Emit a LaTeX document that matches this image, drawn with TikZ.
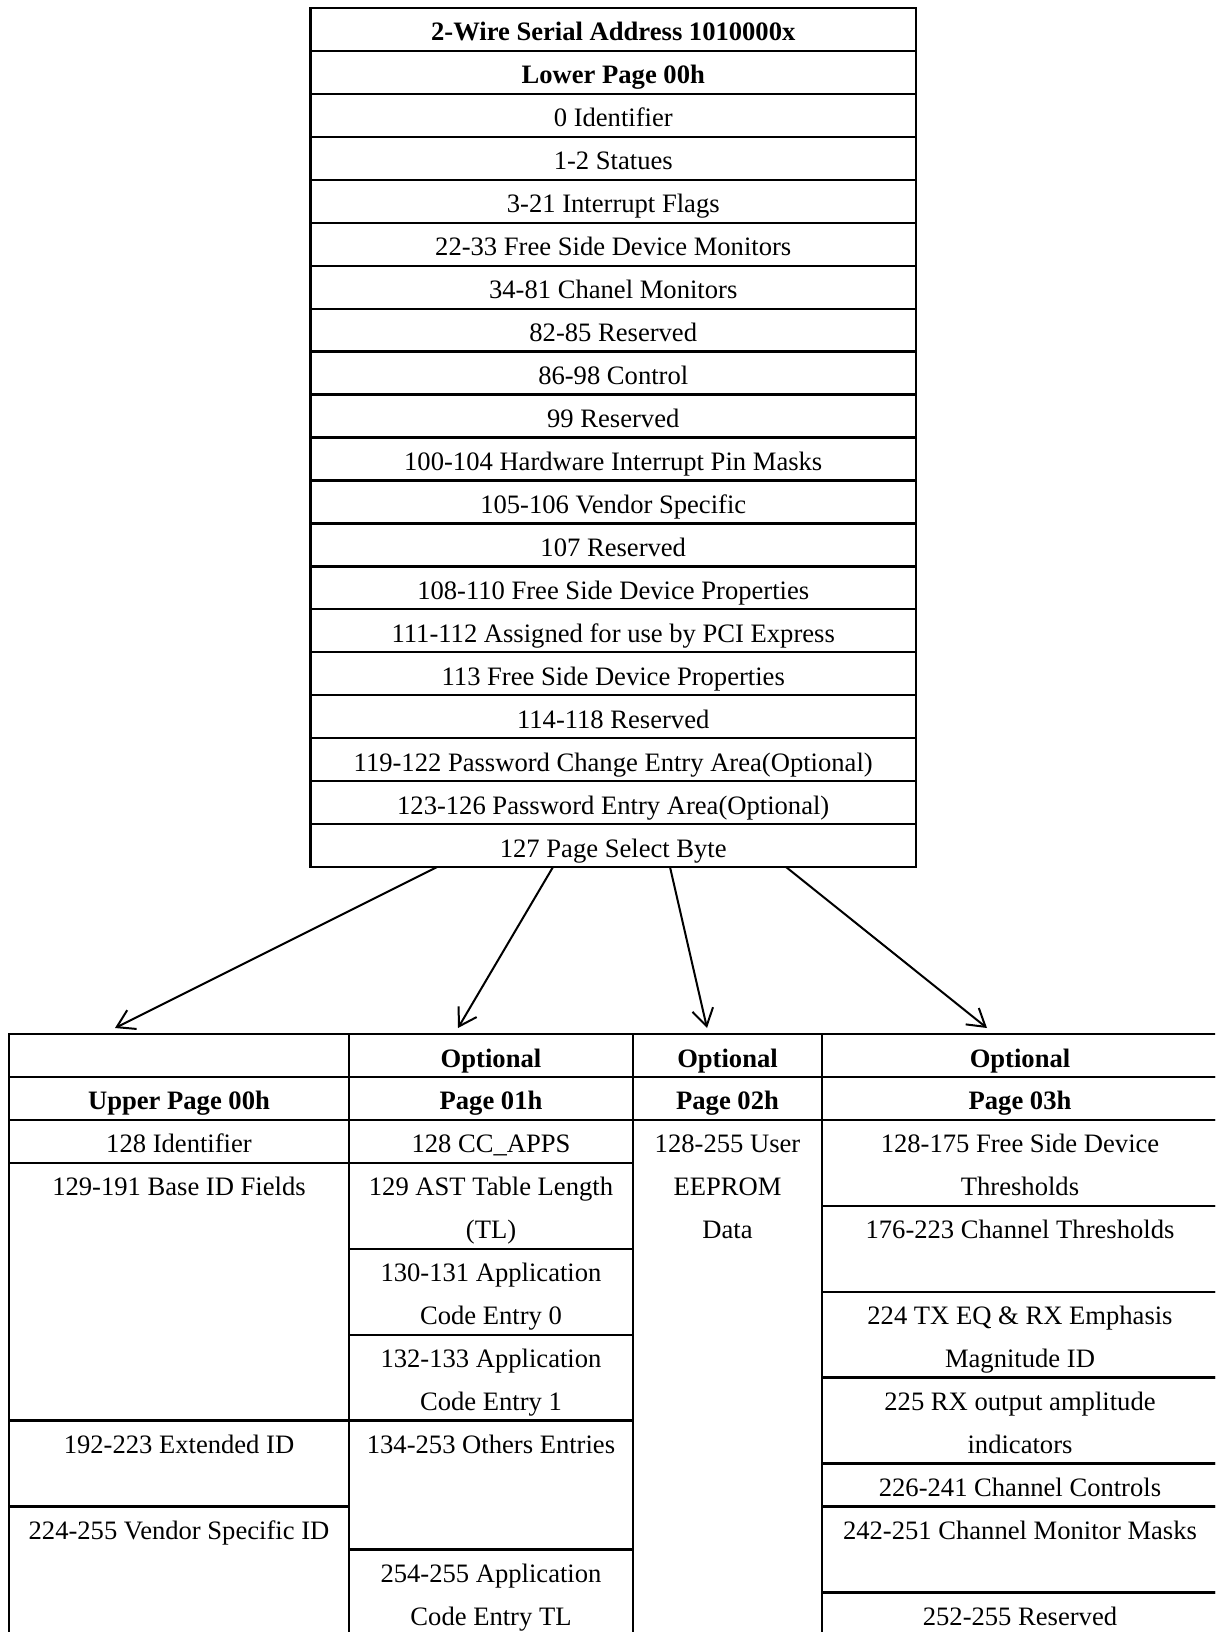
\documentclass[tikz,border=0pt]{standalone}
\usepackage{fontspec}
\setmainfont{Liberation Serif}
\usetikzlibrary{arrows.meta,positioning,calc}
\newcommand{\cellstrut}{\rule[-4.975pt]{0pt}{21.475pt}}

\begin{document}
\begin{tikzpicture}[
    x=1pt, y=-1pt,
    every node/.style={font=\fontsize{13.3}{21.475}\selectfont, inner sep=0pt, outer sep=0pt, execute at begin node=\cellstrut},
    grid/.style={draw, line width=1.15pt},
    row/.style={grid, minimum width=302.75pt, minimum height=21.475pt},
    head/.style={font=\fontsize{13.3}{21.475}\selectfont\bfseries},
    cell/.style={grid, minimum height=#1},
    colA/.style={minimum width=170pt},
    colB/.style={minimum width=142pt},
    colC/.style={minimum width=94.5pt},
    colD/.style={minimum width=198pt},
    txt/.style={anchor=north, align=center},
    arrow/.style={-{Straight Barb[length=8.5pt,width=10.5pt]}, line width=1pt}
  ]
  \clip (0,0) rectangle (607.5,816);

  % Lower page
  \node[row, head] (addr) at (306.625,14.7375) {2-Wire Serial Address 1010000x};
  \node[row, head, below=0pt of addr] (lower) {Lower Page 00h};
  \node[row, below=0pt of lower]    (ident)     {0 Identifier};
  \node[row, below=0pt of ident]    (stat)      {1-2 Statues};
  \node[row, below=0pt of stat]     (intf)      {3-21 Interrupt Flags};
  \node[row, below=0pt of intf]     (fsmon)     {22-33 Free Side Device Monitors};
  \node[row, below=0pt of fsmon]    (chmon)     {34-81 Chanel Monitors};
  \node[row, below=0pt of chmon]    (res82)     {82-85 Reserved};
  \node[row, below=0pt of res82]    (ctrl)      {86-98 Control};
  \node[row, below=0pt of ctrl]     (res99)     {99 Reserved};
  \node[row, below=0pt of res99]    (hwmask)    {100-104 Hardware Interrupt Pin Masks};
  \node[row, below=0pt of hwmask]   (vend)      {105-106 Vendor Specific};
  \node[row, below=0pt of vend]     (res107)    {107 Reserved};
  \node[row, below=0pt of res107]   (fsprop)    {108-110 Free Side Device Properties};
  \node[row, below=0pt of fsprop]   (pcie)      {111-112 Assigned for use by PCI Express};
  \node[row, below=0pt of pcie]     (fsprop113) {113 Free Side Device Properties};
  \node[row, below=0pt of fsprop113](res114)    {114-118 Reserved};
  \node[row, below=0pt of res114]   (pwchg)     {119-122 Password Change Entry Area(Optional)};
  \node[row, below=0pt of pwchg]    (pwent)     {123-126 Password Entry Area(Optional)};
  \node[row, below=0pt of pwent]    (psel)      {127 Page Select Byte};

  % Upper pages, header
  \node[cell=21.475pt, colA]       (optU) at (89.5,527.7375)   {};
  \node[cell=21.475pt, colB, head] (optA) at (245.5,527.7375)  {Optional};
  \node[cell=21.475pt, colC, head] (optB) at (363.75,527.7375) {Optional};
  \node[cell=21.475pt, colD, head] (optC) at (510,527.7375)    {Optional};
  \node[cell=21.475pt, colA, head] (pgU) at (89.5,549.2125)   {Upper Page 00h};
  \node[cell=21.475pt, colB, head] (pgA) at (245.5,549.2125)  {Page 01h};
  \node[cell=21.475pt, colC, head] (pgB) at (363.75,549.2125) {Page 02h};
  \node[cell=21.475pt, colD, head] (pgC) at (510,549.2125)    {Page 03h};

  % Upper page 00h
  \node[cell=21.475pt, colA, label={[txt]north:{128 Identifier}}] (uid) at (89.5,570.6875) {};
  \node[cell=128.85pt, colA, label={[txt]north:{129-191 Base ID Fields}}] (ubase) at (89.5,645.85) {};
  \node[cell=42.95pt, colA, label={[txt]north:{192-223 Extended ID}}] (uext) at (89.5,731.75) {};
  \node[cell=64.425pt, colA, label={[txt]north:{224-255 Vendor Specific ID}}] (uvend) at (89.5,785.4375) {};

  % Page 01h
  \node[cell=21.475pt, colB, label={[txt]north:{128 CC\_APPS}}] (ccapps) at (245.5,570.6875) {};
  \node[cell=42.95pt, colB, label={[txt]north:{\cellstrut 129 AST Table Length\\(TL)}}] (ast) at (245.5,602.9) {};
  \node[cell=42.95pt, colB, label={[txt]north:{\cellstrut 130-131 Application\\Code Entry 0}}] (ace0) at (245.5,645.85) {};
  \node[cell=42.95pt, colB, label={[txt]north:{\cellstrut 132-133 Application\\Code Entry 1}}] (ace1) at (245.5,688.8) {};
  \node[cell=64.425pt, colB, label={[txt]north:{134-253 Others Entries}}] (others) at (245.5,742.4875) {};
  \node[cell=42.95pt, colB, label={[txt]north:{\cellstrut 254-255 Application\\Code Entry TL}}] (acetl) at (245.5,796.175) {};

  % Page 02h
  \node[cell=257.7pt, colC, label={[txt]north:{\cellstrut 128-255 User\\EEPROM\\Data}}] (eeprom) at (363.75,688.8) {};

  % Page 03h
  \node[cell=42.95pt, colD, label={[txt]north:{\cellstrut 128-175 Free Side Device\\Thresholds}}] (fsth) at (510,581.425) {};
  \node[cell=42.95pt, colD, label={[txt]north:{176-223 Channel Thresholds}}] (chth) at (510,624.375) {};
  \node[cell=42.95pt, colD, label={[txt]north:{\cellstrut 224 TX EQ \& RX Emphasis\\Magnitude ID}}] (txeq) at (510,667.325) {};
  \node[cell=42.95pt, colD, label={[txt]north:{\cellstrut 225 RX output amplitude\\indicators}}] (rxamp) at (510,710.275) {};
  \node[cell=21.475pt, colD, label={[txt]north:{226-241 Channel Controls}}] (chctl) at (510,742.4875) {};
  \node[cell=42.95pt, colD, label={[txt]north:{242-251 Channel Monitor Masks}}] (chmask) at (510,774.7) {};
  \node[cell=21.475pt, colD, label={[txt]north:{252-255 Reserved}}] (res252) at (510,806.9125) {};

  % Page select arrows
  \coordinate (tipU) at (57.5,514);
  \coordinate (tipA) at (229,514);
  \coordinate (tipB) at (353.5,514);
  \coordinate (tipC) at (493.5,514);
  \draw[arrow] ($(psel.south west)!0.209!(psel.south east)$) -- (tipU);
  \draw[arrow] ($(psel.south west)!0.4005!(psel.south east)$) -- (tipA);
  \draw[arrow] ($(psel.south west)!0.5937!(psel.south east)$) -- (tipB);
  \draw[arrow] ($(psel.south west)!0.7853!(psel.south east)$) -- (tipC);
\end{tikzpicture}
\end{document}
